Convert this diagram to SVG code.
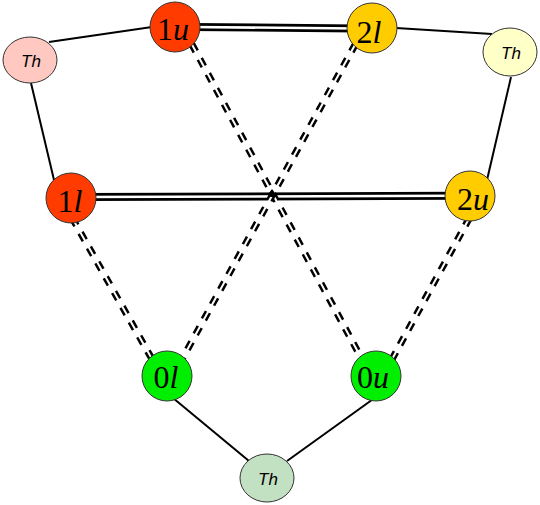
<svg xmlns="http://www.w3.org/2000/svg" width="540" height="505" viewBox="0 0 540 505">
<style>
.solid{stroke:#000;stroke-width:2;fill:none}
.dbo{stroke:#000;stroke-width:8;fill:none}
.dbi{stroke:#fff;stroke-width:2.6;fill:none}
.dso{stroke:#000;stroke-width:7;stroke-dasharray:8.5 8.5;fill:none}
.dsi{stroke:#fff;stroke-width:2;fill:none}
.node{stroke:#333;stroke-width:1}
.lab{font-family:"Liberation Serif",serif;font-size:32px;text-anchor:middle;fill:#000}
.th{font-family:"Liberation Sans",Arial,sans-serif;font-style:italic;font-size:17px;text-anchor:middle;fill:#000}
</style>
<rect width="540" height="505" fill="#fff"/>
<g id="connectors">
  <line class="solid" x1="49" y1="42" x2="152" y2="27"/>
  <line class="solid" x1="31" y1="83" x2="54" y2="180"/>
  <line class="solid" x1="396" y1="28" x2="492" y2="34"/>
  <line class="solid" x1="511" y1="77" x2="487" y2="180"/>
  <line class="solid" x1="173" y1="398" x2="249" y2="461"/>
  <line class="solid" x1="376" y1="397" x2="287" y2="461"/>
  <line class="dbo" x1="190" y1="27" x2="358" y2="28.5"/>
  <line class="dbi" x1="190" y1="27" x2="358" y2="28.5"/>
  <line class="dbo" x1="85" y1="197" x2="456" y2="195.8"/>
  <line class="dbi" x1="85" y1="197" x2="456" y2="195.8"/>
  <line class="dso" x1="191.7" y1="44" x2="360.7" y2="357"/>
  <line class="dsi" x1="191.7" y1="44" x2="360.7" y2="357"/>
  <line class="dso" x1="355.5" y1="44" x2="182.7" y2="358"/>
  <line class="dsi" x1="355.5" y1="44" x2="182.7" y2="358"/>
  <line class="dso" x1="72.2" y1="218" x2="151.4" y2="358"/>
  <line class="dsi" x1="72.2" y1="218" x2="151.4" y2="358"/>
  <line class="dso" x1="469.4" y1="218" x2="391.6" y2="360"/>
  <line class="dsi" x1="469.4" y1="218" x2="391.6" y2="360"/>
  <path d="M272,189 L275,193 L277,196 L273,197 L268,197 L269,193 Z" fill="#000"/>
</g>
<g id="th-left"><ellipse class="node" cx="30" cy="60" rx="27" ry="23" fill="#FFC8C0"/><text class="th" x="31" y="67">Th</text></g>
<g id="th-right"><ellipse class="node" cx="510" cy="52" rx="27" ry="24" fill="#FFFFC8"/><text class="th" x="511" y="59">Th</text></g>
<g id="th-bottom"><ellipse class="node" cx="267" cy="478" rx="27" ry="24" fill="#C2E0C2"/><text class="th" x="268" y="485">Th</text></g>
<g id="n1u"><circle class="node" cx="175" cy="27" r="25" fill="#FF3B00"/><text class="lab" x="173" y="40">1<tspan font-style="italic">u</tspan></text></g>
<g id="n2l"><circle class="node" cx="372" cy="28" r="25" fill="#FFCC00"/><text class="lab" x="369" y="43">2<tspan font-style="italic">l</tspan></text></g>
<g id="n1l"><circle class="node" cx="71" cy="198" r="25" fill="#FF3B00"/><text class="lab" x="70" y="212">1<tspan font-style="italic">l</tspan></text></g>
<g id="n2u"><circle class="node" cx="470" cy="196" r="25" fill="#FFCC00"/><text class="lab" x="473" y="210">2<tspan font-style="italic">u</tspan></text></g>
<g id="n0l"><circle class="node" cx="167" cy="376" r="25" fill="#00EE00"/><text class="lab" x="166" y="388">0<tspan font-style="italic">l</tspan></text></g>
<g id="n0u"><circle class="node" cx="376" cy="376" r="25" fill="#00EE00"/><text class="lab" x="373" y="388">0<tspan font-style="italic">u</tspan></text></g>
</svg>
